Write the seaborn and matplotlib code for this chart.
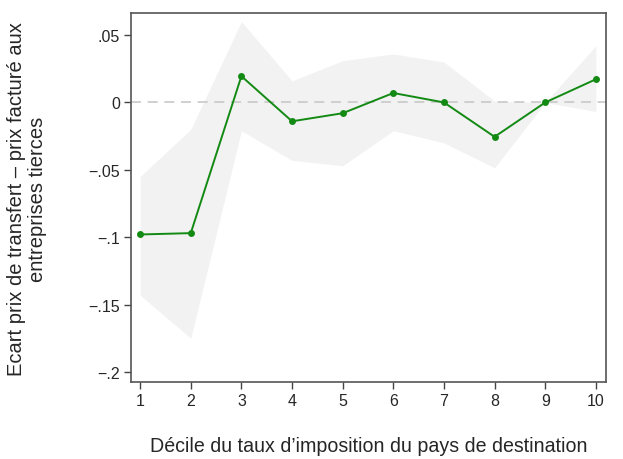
import seaborn as sns
import matplotlib.pyplot as plt
import pandas as pd

deciles = [1, 2, 3, 4, 5, 6, 7, 8, 9, 10]
coef = [-0.098, -0.097, 0.0195, -0.014, -0.008, 0.007, 0.0, -0.0255, 0.0, 0.0172]
ci_hi = [-0.055, -0.020, 0.060, 0.016, 0.031, 0.036, 0.030, 0.001, 0.0, 0.042]
ci_lo = [-0.143, -0.175, -0.021, -0.043, -0.047, -0.021, -0.030, -0.0485, 0.0, -0.0067]
yticks = [0.05, 0, -0.05, -0.1, -0.15, -0.2]
ytick_labels = ['.05', '0', '\u2212.05', '\u2212.1', '\u2212.15', '\u2212.2']

sns.set_style("white")
plt.rcParams['font.family'] = ['Liberation Sans', 'DejaVu Sans']

df = pd.DataFrame({'decile': deciles, 'coef': coef, 'hi': ci_hi, 'lo': ci_lo})

fig = plt.figure(figsize=(6.23, 4.6), dpi=100)
ax = fig.add_axes([0.2103, 0.1674, 0.7624, 0.8022])

ax.fill_between(df['decile'], df['lo'], df['hi'], color='#f2f2f2', linewidth=0, zorder=1)
ax.axhline(0, color='#c8c8c8', linestyle=(0, (6, 4)), linewidth=1.2, zorder=2)
sns.lineplot(data=df, x='decile', y='coef', ax=ax, color='#138a13', linewidth=1.4,
             marker='o', markersize=5, markeredgewidth=0, zorder=3)

ax.set_xlim(0.82, 10.2)
ax.set_ylim(-0.2075, 0.0664)
ax.set_xticks(deciles)
ax.set_xticklabels([str(d) for d in deciles])
ax.set_yticks(yticks)
ax.set_yticklabels(ytick_labels)
ax.tick_params(axis='both', which='both', length=5, width=1, color='#444444',
               labelsize=11.5, direction='out', left=True, bottom=True, pad=3)

for s in ax.spines.values():
    s.set_color('#555555')
    s.set_linewidth(1.2)

ax.set_xlabel("Décile du taux d\u2019imposition du pays de destination", fontsize=14.1, labelpad=20)
ax.set_ylabel("")
fig.text(27 / 623, 1 - 199 / 460,
         "Ecart prix de transfert \u2013 prix facturé aux\nentreprises tierces",
         rotation=90, ha='center', va='center', multialignment='center',
         fontsize=14.5, linespacing=1.1)

fig.savefig('out.png', dpi=100)
